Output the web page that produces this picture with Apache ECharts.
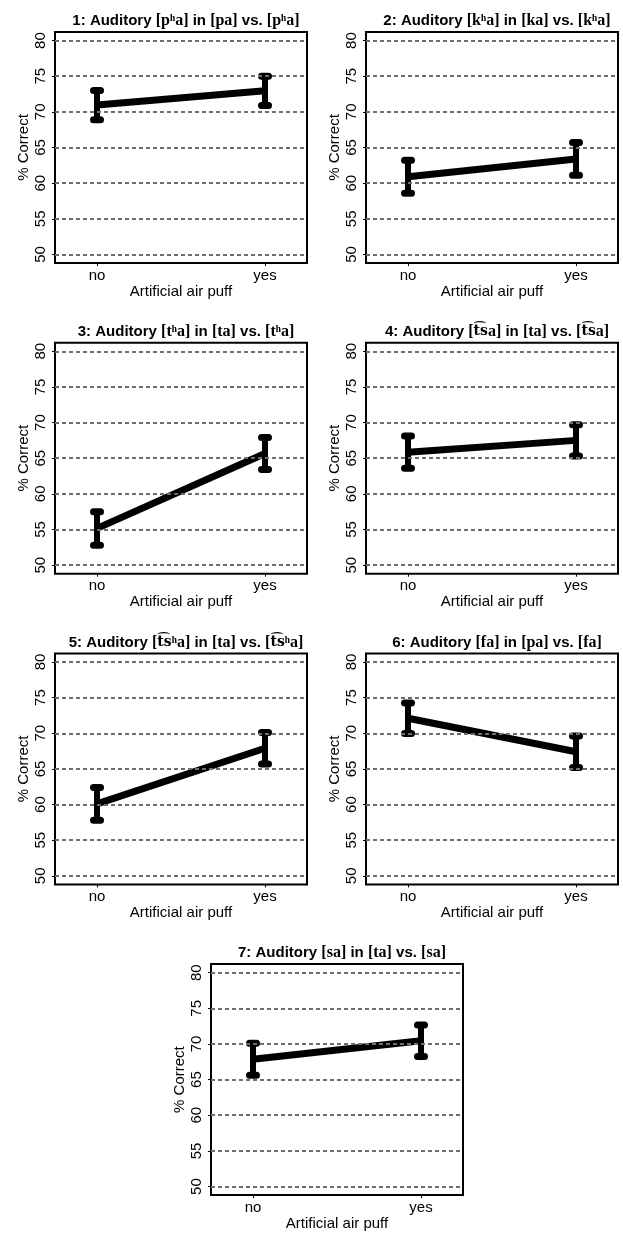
<!DOCTYPE html>
<html>
<head>
<meta charset="utf-8">
<script src="https://cdn.jsdelivr.net/npm/echarts@6/dist/echarts.min.js"></script>
<style>
html,body{margin:0;padding:0;background:#fff;}
#chart{width:623px;height:1233px;}
</style>
</head>
<body>
<div id="chart"></div>
<script>
// ---- data ----
const panelTitles = [
  '1: Auditory {s|[pʰa]} in {s|[pa]} vs. {s|[pʰa]}',
  '2: Auditory {s|[kʰa]} in {s|[ka]} vs. {s|[kʰa]}',
  '3: Auditory {s|[tʰa]} in {s|[ta]} vs. {s|[tʰa]}',
  '4: Auditory {s|[}{t|t͡s}{s|a]} in {s|[ta]} vs. {s|[}{t|t͡s}{s|a]}',
  '5: Auditory {s|[}{t|t͡s}{s|ʰa]} in {s|[ta]} vs. {s|[}{t|t͡s}{s|ʰa]}',
  '6: Auditory {s|[fa]} in {s|[pa]} vs. {s|[fa]}',
  '7: Auditory {s|[sa]} in {s|[ta]} vs. {s|[sa]}'
];
const categories = ['no', 'yes'];
const meanNo  = [70.95, 60.9, 55.15, 65.85, 60.1, 72.1, 67.85];
const meanYes = [72.95, 63.4, 65.65, 67.5, 67.9, 67.4, 70.45];
const errNo   = [2.05, 2.3, 2.35, 2.25, 2.3, 2.15, 2.25];
const errYes  = [2.05, 2.3, 2.25, 2.2, 2.2, 2.2, 2.2];
const yTicks = [50, 55, 60, 65, 70, 75, 80];
const xTitle = 'Artificial air puff';
const yTitle = '% Correct';

// ---- layout ----
const W = 252, H = 231;
const lefts = [55, 366, 55, 366, 55, 366, 211];
const tops  = [32, 32, 342.7, 342.7, 653.4, 653.4, 964.1];
const sans = 'Liberation Sans, Arial, Helvetica, sans-serif';
const serif = 'Liberation Serif, Times New Roman, serif';

const grids = [], xAxes = [], yAxes = [], series = [], titles = [];
for (let i = 0; i < 7; i++) {
  grids.push({left: lefts[i], top: tops[i], width: W, height: H, show: true,
    borderColor: '#000', borderWidth: 2, backgroundColor: 'transparent', containLabel: false});
  xAxes.push({gridIndex: i, type: 'value', min: 0.75, max: 2.25,
    name: xTitle, nameLocation: 'middle', nameGap: 21,
    nameTextStyle: {fontFamily: sans, fontSize: 15, color: '#000'},
    axisLine: {show: false}, splitLine: {show: false},
    axisTick: {show: true, length: 3, lineStyle: {color: '#000', width: 1}, customValues: [1, 2]},
    axisLabel: {fontFamily: sans, fontSize: 15, color: '#000', margin: 5, customValues: [1, 2],
      formatter: v => categories[Math.round(v) - 1]}
  });
  yAxes.push({gridIndex: i, type: 'value', min: 48.8, max: 81.2,
    name: yTitle, nameLocation: 'middle', nameGap: 24,
    nameTextStyle: {fontFamily: sans, fontSize: 15, color: '#000'},
    axisLine: {show: false}, splitLine: {show: false},
    axisTick: {show: true, length: 3, lineStyle: {color: '#000', width: 1}, customValues: yTicks},
    axisLabel: {fontFamily: sans, fontSize: 15, color: '#000', rotate: 90, margin: 7, customValues: yTicks}
  });
  // dashed reference lines
  series.push({type: 'line', xAxisIndex: i, yAxisIndex: i, data: [], z: 1, silent: true,
    markLine: {silent: true, symbol: 'none', label: {show: false}, animation: false,
      lineStyle: {type: [4, 3], color: '#6e6e6e', width: 2},
      data: yTicks.map(v => ({yAxis: v}))}
  });
  // mean line
  series.push({type: 'line', xAxisIndex: i, yAxisIndex: i, z: 3, symbol: 'none', animation: false,
    lineStyle: {color: '#000', width: 7},
    data: [[1, meanNo[i]], [2, meanYes[i]]]});
  // error bars
  series.push({type: 'custom', xAxisIndex: i, yAxisIndex: i, z: 4, animation: false,
    data: [[1, meanNo[i] - errNo[i], meanNo[i] + errNo[i]], [2, meanYes[i] - errYes[i], meanYes[i] + errYes[i]]],
    encode: {x: 0, y: [1, 2]},
    renderItem: function (params, api) {
      const x = api.value(0);
      const pLo = api.coord([x, api.value(1)]);
      const pHi = api.coord([x, api.value(2)]);
      const hw = 3.5;
      const cap = {stroke: '#000', lineWidth: 7, lineCap: 'round'};
      return {type: 'group', children: [
        {type: 'line', shape: {x1: pHi[0], y1: pHi[1], x2: pLo[0], y2: pLo[1]}, style: {stroke: '#000', lineWidth: 6}},
        {type: 'line', shape: {x1: pHi[0] - hw, y1: pHi[1], x2: pHi[0] + hw, y2: pHi[1]}, style: cap},
        {type: 'line', shape: {x1: pLo[0] - hw, y1: pLo[1], x2: pLo[0] + hw, y2: pLo[1]}, style: cap}
      ]};
    }
  });
  titles.push({text: panelTitles[i], left: lefts[i] + W / 2, top: tops[i] - 24, textAlign: 'center',
    textStyle: {fontFamily: sans, fontSize: 15, fontWeight: 'bold', color: '#000',
      rich: {
        s: {fontFamily: serif, fontSize: 16, fontWeight: 'bold', color: '#000'},
        t: {fontFamily: 'DejaVu Serif, serif', fontSize: 14, fontWeight: 'bold', color: '#000'}
      }}});
}

const chart = echarts.init(document.getElementById('chart'), null, {renderer: 'canvas'});
chart.setOption({animation: false, backgroundColor: '#fff', title: titles,
  grid: grids, xAxis: xAxes, yAxis: yAxes, series: series});
</script>
</body>
</html>
